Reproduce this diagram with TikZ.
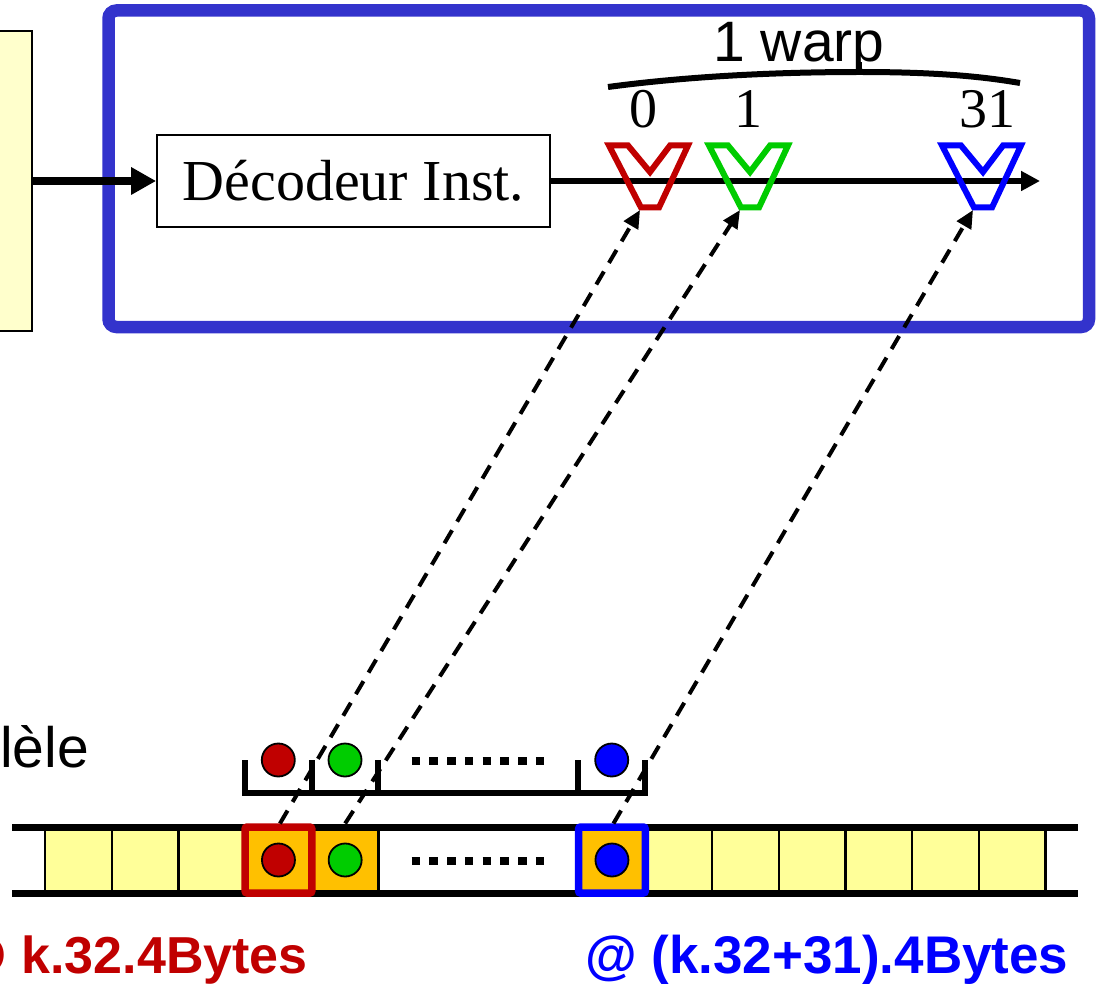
\documentclass[tikz,border=0pt]{standalone}
\usepackage{fontspec}
\setmainfont{Liberation Serif}
\setsansfont{Liberation Sans}
\usetikzlibrary{arrows.meta}
\definecolor{frameblue}{RGB}{51,51,204}
\definecolor{redc}{RGB}{192,0,0}
\definecolor{greenc}{RGB}{0,204,0}
\definecolor{bluec}{RGB}{0,0,255}
\definecolor{cellyellow}{RGB}{255,255,153}
\definecolor{paleyellow}{RGB}{255,255,204}
\definecolor{cellorange}{RGB}{255,192,0}
\begin{document}
\begin{tikzpicture}[x=1pt,y=-1pt,
  cell/.style={draw=black,line width=2.2pt,minimum width=66.7pt,minimum height=66pt,inner sep=0pt,outer sep=0pt},
  rail/.style={line width=7pt},
  lane/.style={circle,draw=black,line width=1.8pt,minimum size=33pt,inner sep=0pt},
  dotrow/.style={line width=8.3pt,dash pattern=on 8.3pt off 9.45pt},
  bracketline/.style={line width=6pt,line cap=butt},
  dasharrow/.style={line width=4pt,dash pattern=on 15pt off 10pt,-{Triangle[length=18pt,width=16pt]}},
  serifnum/.style={inner sep=0pt,font=\fontsize{56}{58}\selectfont},
  sanslabel/.style={inner sep=0pt,font=\sffamily\fontsize{57}{59}\selectfont},
  addrlabel/.style={inner sep=0pt,font=\sffamily\bfseries\fontsize{53}{55}\selectfont},
  thread/.pic={
    \draw[line width=6pt] (2,2.5) -- (21,2.5) -- (43,29) -- (63,2.5) -- (81,2.5) -- (52,64.5) -- (34,64.5) -- cycle;
    \coordinate (-tip) at (33,67);
  }]
\useasboundingbox (0,0) rectangle (1099,984);

% control unit (left) and SM frame
\node[draw=black,line width=1.8pt,fill=paleyellow,minimum width=60pt,minimum height=300pt,inner sep=0pt] (ctrl) at (2,181) {};
\draw[frameblue,line width=12.5pt,rounded corners=8pt] (108.5,10.5) rectangle (1089,327);

% instruction decoder and issue line
\node[draw=black,line width=1.8pt,fill=white,minimum width=393pt,minimum height=92pt,inner sep=0pt,font=\fontsize{58}{60}\selectfont] (dec) at (353.5,181) {Décodeur Inst.};
\draw[line width=7.5pt,-{Triangle[length=25pt,width=26pt]}] (ctrl.east) -- (dec.west);
\coordinate (axend) at (1040,181);
\draw[line width=5.5pt,-{Triangle[length=19pt,width=19pt]}] (dec.east) -- (axend);

% threads of the warp
\pic[color=redc] (t0) at (607,143) {thread};
\pic[color=greenc] (t1) at (707,143) {thread};
\pic[color=bluec] (t31) at (940,143) {thread};

\node[serifnum,anchor=base] (n0) at (643,128) {0};
\node[serifnum,anchor=base] (n1) at (748,128) {1};
\node[serifnum,anchor=base] (n31) at (987,128) {31};

% warp brace
\draw[line width=6pt] (608,87) .. controls (690,76) and (780,72) .. (860,72)
  .. controls (940,72) and (985,77) .. (1020,83);
\draw[line width=4.5pt] (860,73) -- (860,62);
\node[sanslabel,anchor=base] (warp) at (799,62) {1 warp};

% memory row
\foreach \i in {0,1,2,9,10,11,12,13,14}
  \node[cell,fill=cellyellow] (c\i) at ({45+66.7*(\i+0.5)},860) {};
\foreach \i in {3,4,8}
  \node[cell,fill=cellorange] (c\i) at ({45+66.7*(\i+0.5)},860) {};
\draw[rail] (12,827) -- (1078,827);
\draw[rail] (12,893) -- (1078,893);
\draw[redc,line width=7.5pt,rounded corners=2pt] (c3.south west) rectangle (c3.north east);
\draw[bluec,line width=7.5pt,rounded corners=2pt] (c8.south west) rectangle (c8.north east);
\node[lane,fill=redc] (m0) at (c3.center) {};
\node[lane,fill=greenc] (m1) at (c4.center) {};
\node[lane,fill=bluec] (m31) at (c8.center) {};
\draw[dotrow] (411.7,861) -- (544,861);

% coalesced access bracket
\draw[bracketline] (245,760) -- (245,793) -- (645,793) -- (645,760);
\foreach \x in {311.7,378.3,578.3}
  \draw[bracketline] (\x,760) -- (\x,793);
\node[lane,fill=redc] (r0) at (278.3,760) {};
\node[lane,fill=greenc] (r1) at (345,760) {};
\node[lane,fill=bluec] (r31) at (611.7,760) {};
\draw[dotrow] (411.7,761) -- (544,761);

% thread-to-word accesses
\draw[dasharrow] ([xshift=1.5pt,yshift=3.5pt]c3.north) -- (t0-tip);
\draw[dasharrow] ([yshift=3.5pt]c4.north) -- (t1-tip);
\draw[dasharrow] ([xshift=1.5pt,yshift=3.5pt]c8.north) -- (t31-tip);

% labels
\node[sanslabel,anchor=base east] (par) at (89,767) {lèle};
\node[addrlabel,anchor=base east,text=redc,font=\sffamily\bfseries\fontsize{52}{54}\selectfont] (a0) at (308,973) {@ k.32.4Bytes};
\node[addrlabel,anchor=base west,text=bluec] (a31) at (585,973) {@ (k.32+31).4Bytes};
\end{tikzpicture}
\end{document}
